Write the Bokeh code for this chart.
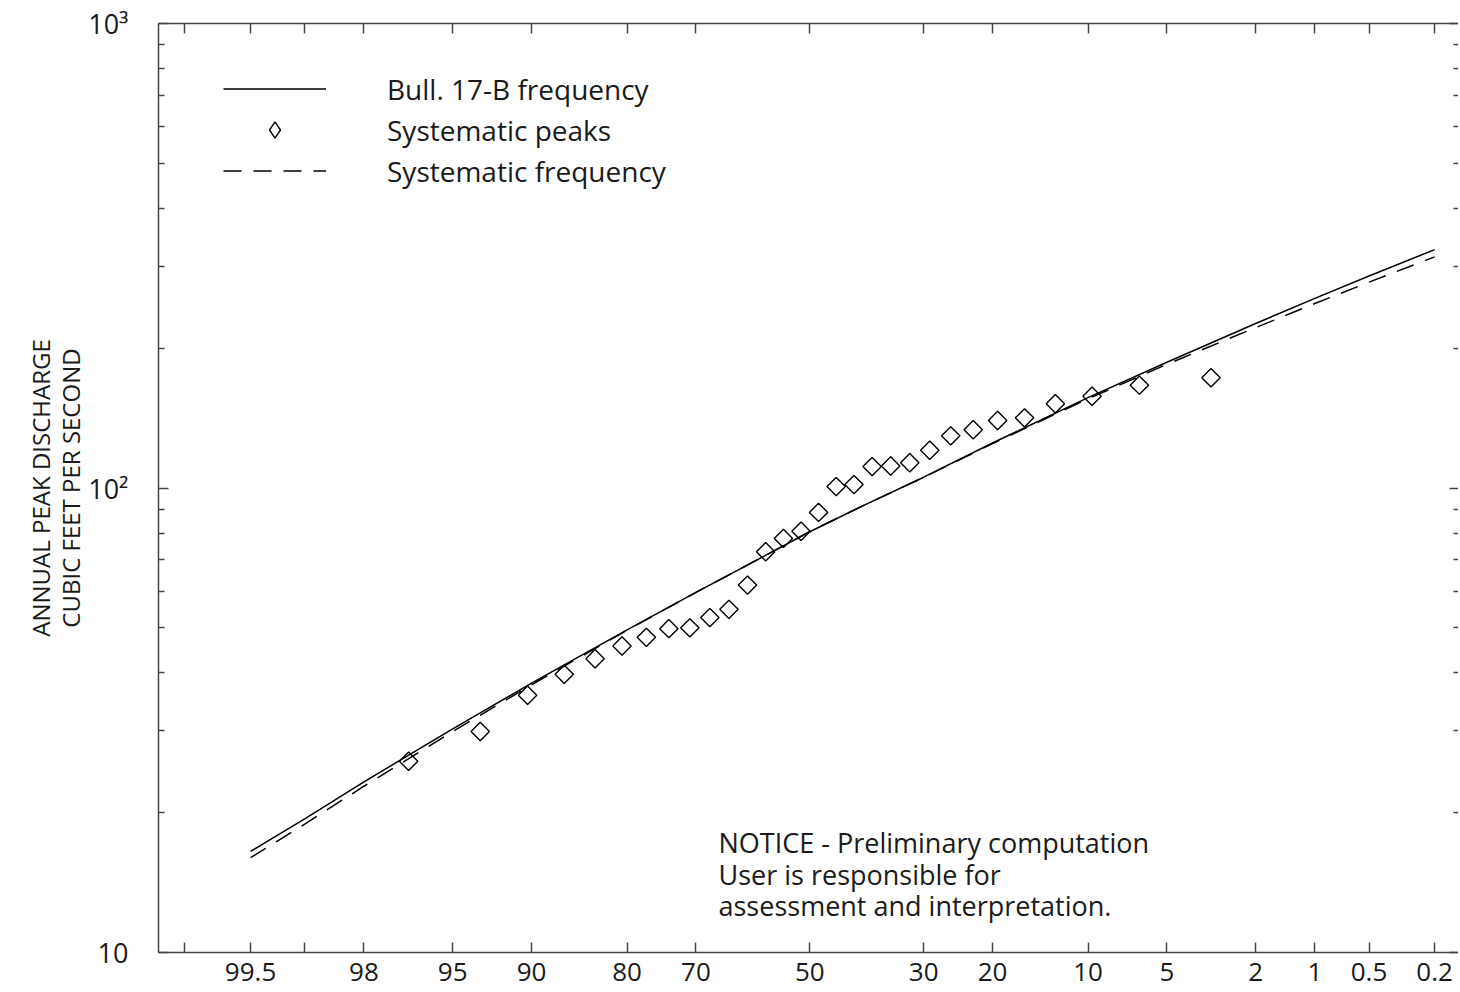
from statistics import NormalDist
import numpy as np
from bokeh.plotting import figure
from bokeh.models import (FixedTicker, LinearAxis, LogAxis, Range1d, Legend,
                          LegendItem, Label, ColumnDataSource)
from bokeh.embed import file_html
from bokeh.resources import INLINE

# ---------------- data ----------------
PROB_TICKS = [99.8, 99.5, 99, 98, 95, 90, 80, 70, 50, 30, 20, 10, 5, 2, 1, 0.5, 0.2]
PROB_LABELS = ["", "99.5", "", "98", "95", "90", "80", "70", "50", "30", "20",
               "10", "5", "2", "1", "0.5", "0.2"]

Y_TICKS = [10, 100, 1000]
Y_LABELS = ["10", "10\u00b2", "10\u00b3"]
Y_MINOR = [20, 30, 40, 50, 60, 70, 80, 90, 200, 300, 400, 500, 600, 700, 800, 900]

# frequency curves (exceedance probability, percent)
CURVE_PROB = [99.5, 99, 98, 95, 90, 80, 70, 60, 50, 40, 30, 20, 10, 5, 2, 1, 0.5, 0.2]
BULL17B_Q = [16.5, 19.4, 23.3, 30.3, 38.0, 49.5, 59.6, 69.6, 80.5, 92.0, 105.5,
             125.0, 156.5, 186.5, 226.0, 256.0, 286.0, 326.0]
SYSTEMATIC_Q = [16.0, 18.9, 22.8, 29.9, 37.7, 49.4, 59.6, 69.6, 80.6, 92.0, 105.4,
                124.6, 155.6, 184.6, 221.5, 249.5, 277.5, 314.5]

# systematic annual peaks (plotting position, percent) and discharge
PEAK_PROB = [3.23, 6.45, 9.68, 12.90, 16.13, 19.35, 22.58, 25.81, 29.03, 32.26,
             35.48, 38.71, 41.94, 45.16, 48.39, 51.61, 54.84, 58.06, 61.29, 64.52,
             67.74, 70.97, 74.19, 77.42, 80.65, 83.87, 87.10, 90.32, 93.55, 96.77]
PEAK_Q = [172.7, 166.5, 157.6, 151.8, 141.6, 139.7, 133.5, 129.5, 120.6, 113.3,
          111.5, 111.2, 101.7, 100.7, 88.6, 80.7, 77.9, 72.9, 61.8, 54.8,
          52.6, 50.0, 49.8, 47.7, 45.7, 42.9, 39.7, 35.8, 29.9, 25.8]

NOTICE = ["NOTICE - Preliminary computation",
          "User is responsible for",
          "assessment and interpretation."]

# ---------------- probability (normal) scale ----------------
_nd = NormalDist()


def zval(p_percent):
    return _nd.inv_cdf(1.0 - p_percent / 100.0)


z_ticks = [zval(v) for v in PROB_TICKS]
z_curve = [zval(v) for v in CURVE_PROB]
z_peaks = [zval(v) for v in PEAK_PROB]

FONT = "Open Sans"
TXT = "#1a1a1a"
AX = "#444444"

p = figure(width=1458, height=990,
           x_range=Range1d(-3.0, 2.988), y_range=Range1d(10, 1000),
           y_axis_type="log", output_backend="svg", toolbar_location=None,
           min_border_left=158, min_border_top=23, min_border_right=0,
           min_border_bottom=38)
p.outline_line_color = None
p.xgrid.visible = False
p.ygrid.visible = False
p.background_fill_color = "white"

x_over = {z: lab for z, lab in zip(z_ticks, PROB_LABELS)}
x_blank = {z: "" for z in z_ticks}
y_over = {t: lab for t, lab in zip(Y_TICKS, Y_LABELS)}
y_blank = {t: "" for t in Y_TICKS}


def style_common(ax):
    ax.major_tick_out = 0
    ax.minor_tick_out = 0
    ax.axis_line_color = AX
    ax.axis_line_width = 1.5
    ax.major_tick_line_color = AX
    ax.major_tick_line_width = 1.5
    ax.minor_tick_line_color = AX
    ax.minor_tick_line_width = 1.5


def style_x(ax, labels=True):
    ax.ticker = FixedTicker(ticks=z_ticks, minor_ticks=[])
    style_common(ax)
    ax.major_tick_in = 10
    ax.minor_tick_in = 0
    ax.major_label_text_font = FONT
    ax.major_label_text_color = TXT
    if labels:
        ax.major_label_overrides = x_over
        ax.major_label_text_font_size = "26px"
        ax.major_label_standoff = 10
    else:
        ax.major_label_overrides = x_blank
        ax.major_label_text_font_size = "4px"
        ax.major_label_standoff = 0


def style_y(ax, labels=True):
    ax.ticker = FixedTicker(ticks=Y_TICKS, minor_ticks=Y_MINOR)
    style_common(ax)
    ax.major_tick_in = 10
    ax.minor_tick_in = 6
    ax.major_label_text_font = FONT
    ax.major_label_text_color = TXT
    if labels:
        ax.major_label_overrides = y_over
        ax.major_label_text_font_size = "27px"
        ax.major_label_standoff = 30
    else:
        ax.major_label_overrides = y_blank
        ax.major_label_text_font_size = "4px"
        ax.major_label_standoff = 0


style_x(p.xaxis[0])
style_y(p.yaxis[0])
p.yaxis[0].axis_label = "ANNUAL PEAK DISCHARGE\nCUBIC FEET PER SECOND"
p.yaxis[0].axis_label_text_font = FONT
p.yaxis[0].axis_label_text_font_style = "normal"
p.yaxis[0].axis_label_text_font_size = "24px"
p.yaxis[0].axis_label_text_color = TXT
p.yaxis[0].axis_label_text_line_height = 0.93
p.yaxis[0].axis_label_standoff = -2

top = LinearAxis()
style_x(top, labels=False)
p.add_layout(top, "above")

right = LogAxis()
style_y(right, labels=False)
right.major_tick_in = 9
right.minor_tick_in = 5
right.axis_line_color = None
p.add_layout(right, "right")

# ---------------- glyphs ----------------
r_bull = p.line(z_curve, BULL17B_Q, line_color="black", line_width=1.5)
r_peaks = p.scatter(z_peaks, PEAK_Q, marker="square", size=13, angle=np.pi / 4,
                    fill_color=None, line_color="black", line_width=1.4)
r_sys = p.line(z_curve, SYSTEMATIC_Q, line_color="black", line_width=1.5,
               line_dash="18 12")
# legend key for the diamond symbol (a single undrawn NaN point)
key_src = ColumnDataSource(data=dict(x=[np.nan], y=[np.nan]))
r_peaks_key = p.scatter("x", "y", source=key_src, marker="diamond",
                        fill_color=None, line_color="black", line_width=1.4)

legend = Legend(items=[LegendItem(label="Bull. 17-B frequency", renderers=[r_bull]),
                       LegendItem(label="Systematic peaks", renderers=[r_peaks_key]),
                       LegendItem(label="Systematic frequency", renderers=[r_sys])],
                location=(65, 761), glyph_width=103, glyph_height=41,
                label_height=41, label_standoff=61, spacing=0, padding=0,
                margin=0, border_line_color=None, background_fill_alpha=0,
                label_text_font=FONT, label_text_font_size="28px",
                label_text_color=TXT)
p.add_layout(legend)

for i, line in enumerate(NOTICE):
    p.add_layout(Label(x=560, y=110 - 31.5 * i, x_units="screen", y_units="screen",
                       text=line, text_font=FONT, text_font_size="27px",
                       text_color=TXT, text_baseline="middle"))

open("out.html", "w").write(file_html(p, INLINE))
